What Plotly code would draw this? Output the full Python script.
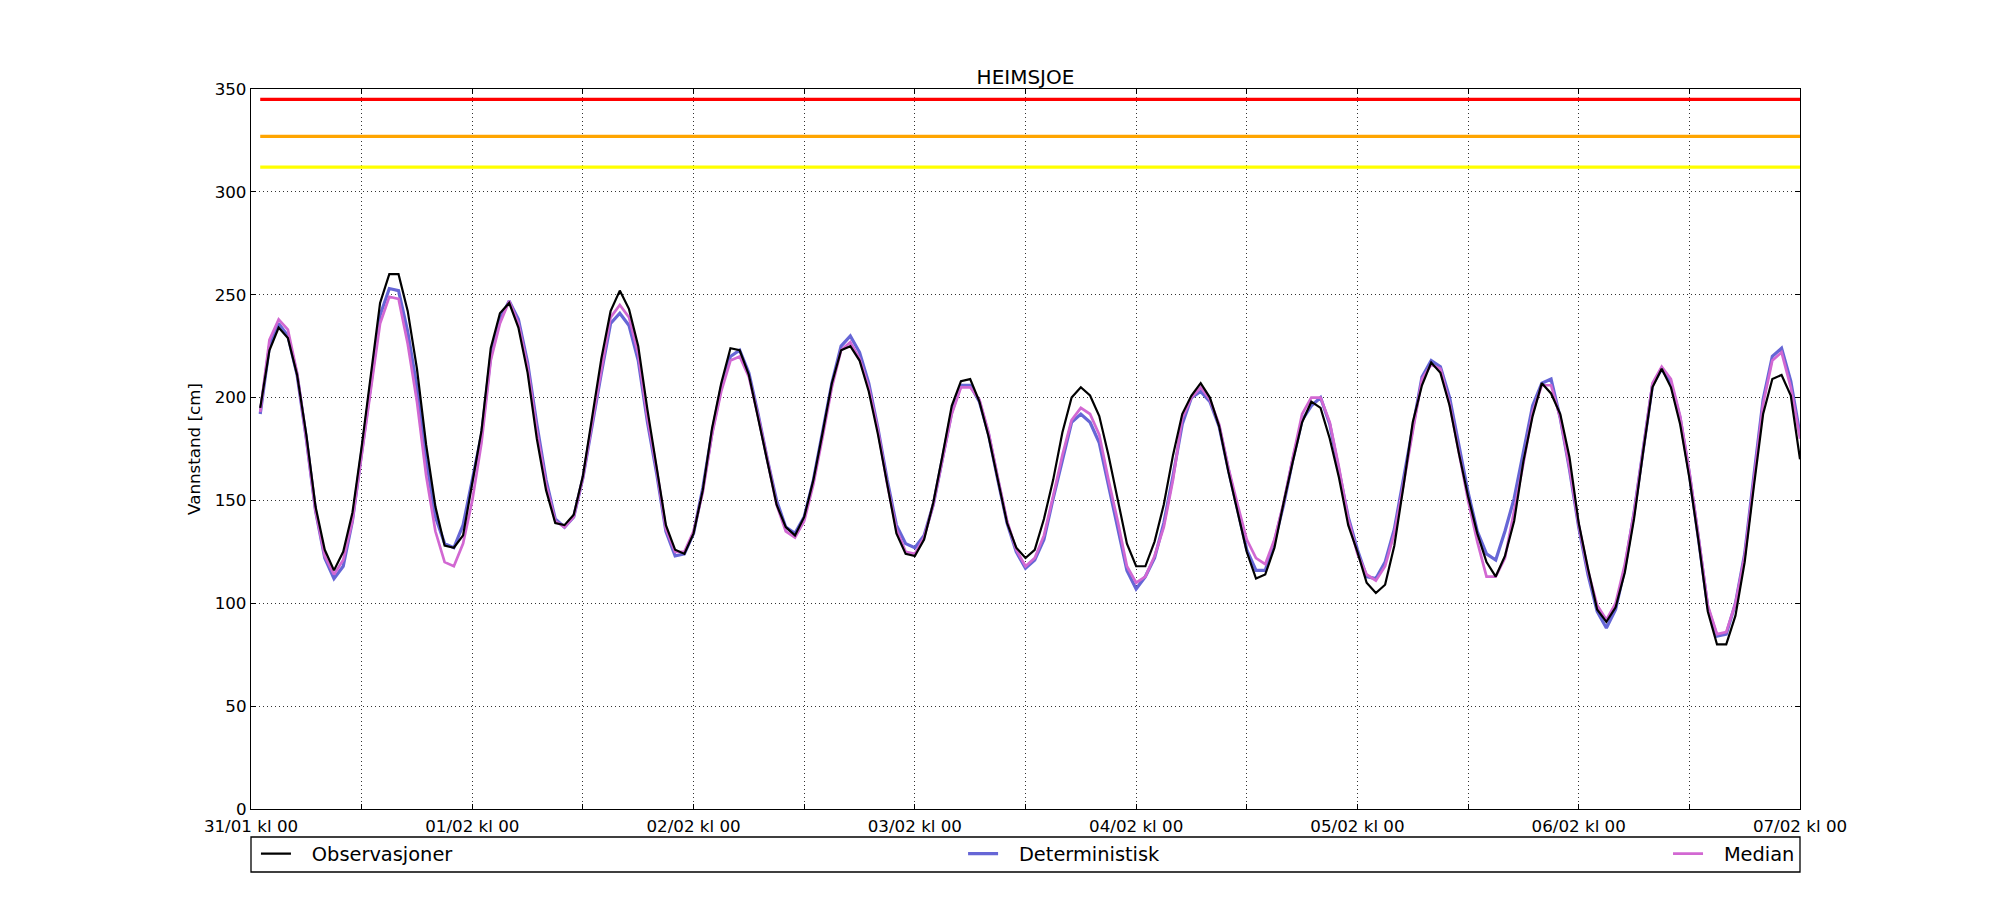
import pandas as pd
import plotly.graph_objects as go

# hourly water level, 31/01 kl 01 .. 07/02 kl 00
times = pd.date_range("2017-01-31 01:00", periods=168, freq="h")

observasjoner = [
    195, 223, 234, 229, 211, 182, 147, 126, 116, 125, 144, 176,
    211, 246, 260, 260, 242, 214, 177, 147, 128, 127, 133, 159,
    184, 224, 241, 246, 234, 212, 180, 155, 139, 138, 143, 162,
    190, 219, 242, 252, 243, 225, 194, 167, 138, 126, 124, 134,
    155, 185, 207, 224, 223, 211, 190, 170, 148, 137, 133, 142,
    160, 183, 207, 223, 225, 218, 203, 182, 157, 134, 124, 123,
    131, 149, 172, 196, 208, 209, 198, 181, 160, 139, 127, 122,
    126, 141, 160, 183, 200, 205, 201, 191, 172, 151, 129, 118,
    118, 130, 148, 172, 192, 201, 207, 200, 186, 164, 144, 125,
    112, 114, 127, 149, 169, 188, 198, 195, 180, 161, 138, 125,
    110, 105, 109, 128, 157, 188, 206, 217, 212, 196, 173, 152,
    134, 120, 113, 123, 140, 169, 191, 207, 202, 192, 171, 139,
    117, 97, 91, 98, 115, 141, 174, 205, 214, 205, 187, 161,
    130, 96, 80, 80, 94, 120, 157, 192, 209, 211, 201, 170,
]

deterministisk = [
    192, 225, 236, 230, 211, 180, 145, 122, 112, 118, 140, 174,
    208, 240, 253, 252, 232, 205, 170, 142, 129, 127, 138, 160,
    182, 220, 238, 247, 238, 217, 187, 160, 141, 137, 142, 161,
    187, 212, 236, 241, 235, 218, 188, 163, 135, 123, 124, 134,
    156, 183, 205, 220, 223, 212, 192, 170, 150, 137, 134, 142,
    160, 184, 207, 225, 230, 222, 207, 185, 160, 138, 129, 127,
    133, 148, 170, 193, 206, 206, 198, 182, 160, 139, 125, 117,
    121, 131, 151, 170, 188, 192, 188, 178, 157, 136, 116, 107,
    113, 122, 139, 162, 187, 200, 203, 198, 186, 165, 145, 126,
    116, 116, 130, 148, 170, 189, 196, 200, 187, 165, 142, 126,
    113, 112, 120, 136, 161, 185, 210, 218, 215, 200, 177, 154,
    135, 124, 121, 135, 151, 174, 196, 207, 209, 190, 165, 137,
    114, 96, 88, 97, 117, 144, 175, 206, 214, 207, 190, 163,
    131, 98, 84, 85, 100, 124, 162, 199, 220, 224, 208, 182,
]

median = [
    193, 228, 238, 233, 212, 180, 145, 123, 114, 121, 140, 172,
    205, 236, 249, 248, 226, 198, 162, 135, 120, 118, 129, 150,
    178, 218, 236, 247, 236, 215, 184, 158, 140, 137, 142, 161,
    188, 214, 239, 245, 239, 221, 190, 165, 136, 125, 125, 135,
    154, 182, 203, 218, 220, 210, 191, 170, 148, 135, 132, 140,
    158, 181, 205, 223, 227, 219, 205, 184, 158, 136, 125, 124,
    132, 148, 170, 192, 205, 205, 199, 183, 161, 140, 126, 118,
    122, 133, 152, 172, 189, 195, 192, 182, 160, 140, 118, 110,
    113, 123, 137, 160, 190, 200, 205, 199, 187, 166, 148, 131,
    122, 119, 131, 149, 171, 192, 200, 200, 188, 166, 141, 124,
    114, 111, 118, 134, 158, 183, 209, 216, 214, 197, 174, 150,
    130, 113, 113, 122, 145, 168, 193, 206, 206, 190, 166, 138,
    116, 99, 92, 100, 119, 144, 175, 207, 215, 209, 191, 164,
    132, 99, 85, 86, 100, 123, 160, 197, 218, 222, 205, 180,
]

# warning levels
levels = [345, 327, 312]
level_colors = ["#ff0000", "#ffa500", "#ffff00"]

tick_times = pd.date_range("2017-01-31 00:00", "2017-02-07 00:00", freq="12h")
tick_text = [t.strftime("%d/%m kl %H") if t.hour == 0 else "" for t in tick_times]

font = "DejaVu Sans"
pad = "\u2002\u00a0"  # gap between legend line and text

fig = go.Figure()

for lvl, col in zip(levels, level_colors):
    fig.add_trace(go.Scatter(x=[times[0], times[-1]], y=[lvl, lvl], mode="lines",
                             line=dict(color=col, width=3.3), showlegend=False,
                             hoverinfo="skip"))

fig.add_trace(go.Scatter(x=times, y=deterministisk, mode="lines", name=pad + "Deterministisk",
                         line=dict(color="#6666d6", width=3.2), legend="legend2"))
fig.add_trace(go.Scatter(x=times, y=median, mode="lines", name=pad + "Median",
                         line=dict(color="#d268d2", width=2.7), legend="legend3"))
fig.add_trace(go.Scatter(x=times, y=observasjoner, mode="lines", name=pad + "Observasjoner",
                         line=dict(color="black", width=2.2), legend="legend"))

leg = dict(orientation="h", yanchor="middle", y=-0.0625, xanchor="left",
           bgcolor="rgba(0,0,0,0)", borderwidth=0, itemwidth=30,
           font=dict(family=font, size=19.4, color="black"))
fig.update_layout(
    legend=dict(leg, x=0.0032),
    legend2=dict(leg, x=0.4597),
    legend3=dict(leg, x=0.9148),
)

# legend frame across the axis width
fig.add_shape(type="rect", xref="paper", yref="paper", x0=0, x1=1,
              y0=-0.0875, y1=-0.0389, line=dict(color="black", width=1.3))

grid = dict(showgrid=True, gridcolor="#333", griddash="1px,3px", gridwidth=1,
            ticks="inside", ticklen=5, tickcolor="black", mirror="allticks",
            showline=True, linecolor="black", linewidth=1.3, zeroline=False,
            tickfont=dict(family=font, size=16.7, color="black"))

fig.update_xaxes(range=[tick_times[0], tick_times[-1]], tickvals=tick_times,
                 ticktext=tick_text, ticklabelstandoff=2, **grid)
fig.update_yaxes(
    range=[0, 350], dtick=50, tick0=0, **grid,
    title=dict(text="Vannstand [cm]", font=dict(family=font, size=16.7, color="black"),
               standoff=9),
)

# page body adds 8px around the figure
fig.update_layout(
    width=1984, height=884,
    margin=dict(l=243, r=192, t=81, b=83, autoexpand=False),
    plot_bgcolor="white", paper_bgcolor="white",
    title=dict(text="HEIMSJOE", x=0.5, xref="paper", y=1 - 68.5 / 884, yref="container",
               yanchor="middle", font=dict(family=font, size=20, color="black")),
    font=dict(family=font, color="black"),
)

fig.write_html("out.html")
